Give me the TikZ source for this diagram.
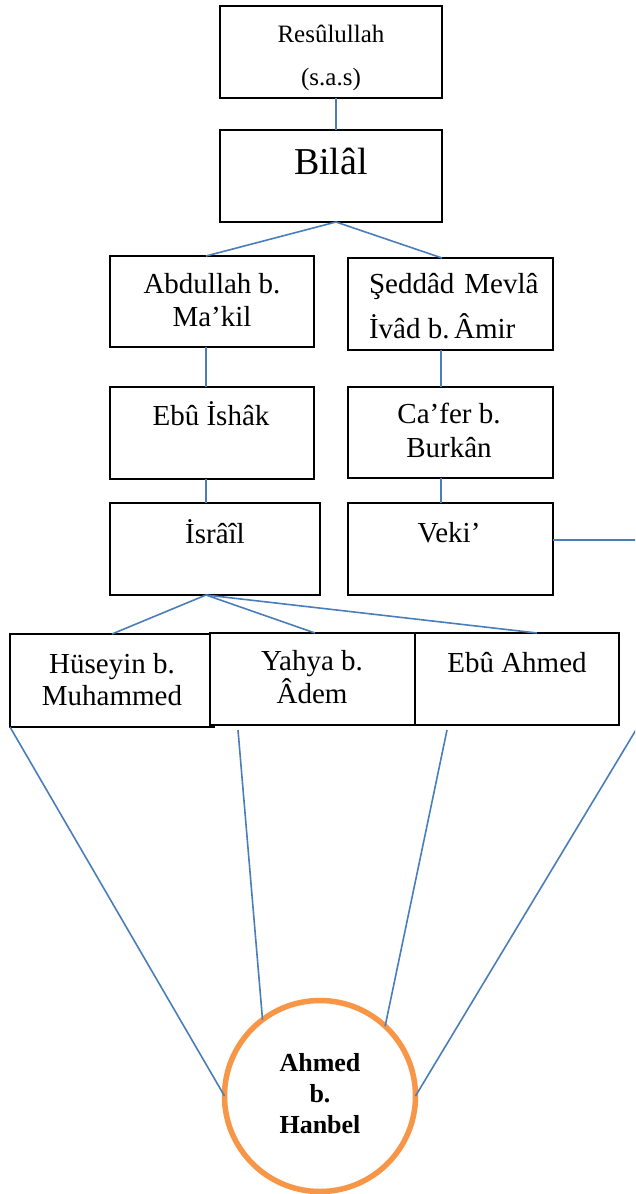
\documentclass[tikz,border=0pt]{standalone}
\usepackage{fontspec}
\setmainfont{Liberation Serif}
\definecolor{connblue}{HTML}{4A7EBB}
\definecolor{ringorange}{HTML}{F79646}
\tikzset{
  box/.style={draw=black, line width=2.2pt, inner sep=0pt, outer sep=0pt, fill=white},
  link/.style={draw=connblue, line width=1.6pt},
  txt/.style={inner sep=0pt, outer sep=0pt, anchor=base, font=\fontsize{29}{34}\selectfont},
  smalltxt/.style={txt, font=\fontsize{25}{30}\selectfont},
  bigtxt/.style={txt, font=\fontsize{38}{44}\selectfont},
  boldtxt/.style={txt, font=\fontsize{26}{31}\selectfont\bfseries},
  ring/.style={circle, draw=ringorange, line width=5.5pt, fill=white, minimum size=191pt, inner sep=0pt, outer sep=0pt},
}
\begin{document}
\begin{tikzpicture}[x=1pt,y=-1pt]
\clip (0,0) rectangle (635,1194);
\fill[white] (0,0) rectangle (635,1194);

\coordinate (vekiOut) at (660,540);
\coordinate (vekiBend) at (660,690);

% boxes
\node[box, minimum width=222pt, minimum height=92pt] (rasul) at (331,52) {};
\node[box, minimum width=222pt, minimum height=92pt] (bilal) at (331,176) {};
\node[box, minimum width=204pt, minimum height=91pt] (abd) at (212,301.5) {};
\node[box, minimum width=205pt, minimum height=92pt] (sed) at (450.5,304) {};
\node[box, minimum width=204pt, minimum height=92pt] (ishak) at (212,433) {};
\node[box, minimum width=205pt, minimum height=91pt] (cafer) at (450.5,432.5) {};
\node[box, minimum width=210pt, minimum height=92pt] (israil) at (215,549) {};
\node[box, minimum width=205pt, minimum height=92pt] (veki) at (450.5,549) {};
\node[box, minimum width=204pt, minimum height=93pt] (huseyin) at (112,680.5) {};
\node[box, minimum width=205pt, minimum height=92pt] (yahya) at (312.5,679) {};
\node[box, minimum width=204pt, minimum height=92pt] (ebuahmed) at (517,679) {};
\node[ring] (ahmed) at (320,1096) {};

% free start points of the lower connectors
\coordinate (hStart) at (10,727);
\coordinate (yStart) at (238,730);
\coordinate (eStart) at (447,730);

% connectors
\draw[link] ([xshift=5pt]rasul.south) -- ([xshift=5pt]bilal.north);
\draw[link] ([xshift=5pt]bilal.south) -- ([xshift=-6pt]abd.north);
\draw[link] ([xshift=5pt]bilal.south) -- ([xshift=-8.5pt]sed.north);
\draw[link] ([xshift=-6pt]abd.south) -- ([xshift=-6pt]ishak.north);
\draw[link] ([xshift=-9.5pt]sed.south) -- ([xshift=-9.5pt]cafer.north);
\draw[link] ([xshift=-6pt]ishak.south) -- ([xshift=-9pt]israil.north);
\draw[link] ([xshift=-9.5pt]cafer.south) -- ([xshift=-9.5pt]veki.north);
\draw[link] ([yshift=9pt]veki.east) -- (vekiOut) -- (vekiBend) -- (ahmed.0);
\draw[link] ([xshift=-9pt]israil.south) -- (huseyin.north);
\draw[link] ([xshift=-9pt]israil.south) -- ([xshift=2.5pt]yahya.north);
\draw[link] ([xshift=-9pt]israil.south) -- ([xshift=20pt]ebuahmed.north);
\draw[link] (hStart) -- (ahmed.180);
\draw[link] (yStart) -- (ahmed.127);
\draw[link] (eStart) -- (ahmed.47);

% texts
\node[smalltxt] (rasulA) at (331,42) {Resûlullah};
\node[smalltxt] (rasulB) at (331,85) {(s.a.s)};
\node[bigtxt] (bilalT) at (331,174) {Bilâl};
\node[txt] (abdA) at (212,293) {Abdullah b.};
\node[txt] (abdB) at (212,326) {Ma’kil};
\node[txt, anchor=base west] (sedA) at (369,293) {Şeddâd\hspace{10pt}Mevlâ};
\node[txt, anchor=base west] (sedB) at (369,338) {İvâd b.\hspace{-5pt} Âmir};
\node[txt] (ishakT) at (211,425) {Ebû İshâk};
\node[txt] (caferA) at (449,423) {Ca’fer b.};
\node[txt] (caferB) at (449,457) {Burkân};
\node[txt] (israilT) at (215,543) {İsrâîl};
\node[txt] (vekiT) at (449,542) {Veki’};
\node[txt] (husA) at (112,673) {Hüseyin b.};
\node[txt] (husB) at (112,705) {Muhammed};
\node[txt] (yahA) at (312,670) {Yahya b.};
\node[txt] (yahB) at (312,703) {Âdem};
\node[txt] (ebuT) at (517,672) {Ebû Ahmed};
\node[boldtxt] (ahA) at (320,1071) {Ahmed};
\node[boldtxt] (ahB) at (320,1102) {b.};
\node[boldtxt] (ahC) at (320,1133) {Hanbel};
\end{tikzpicture}
\end{document}
